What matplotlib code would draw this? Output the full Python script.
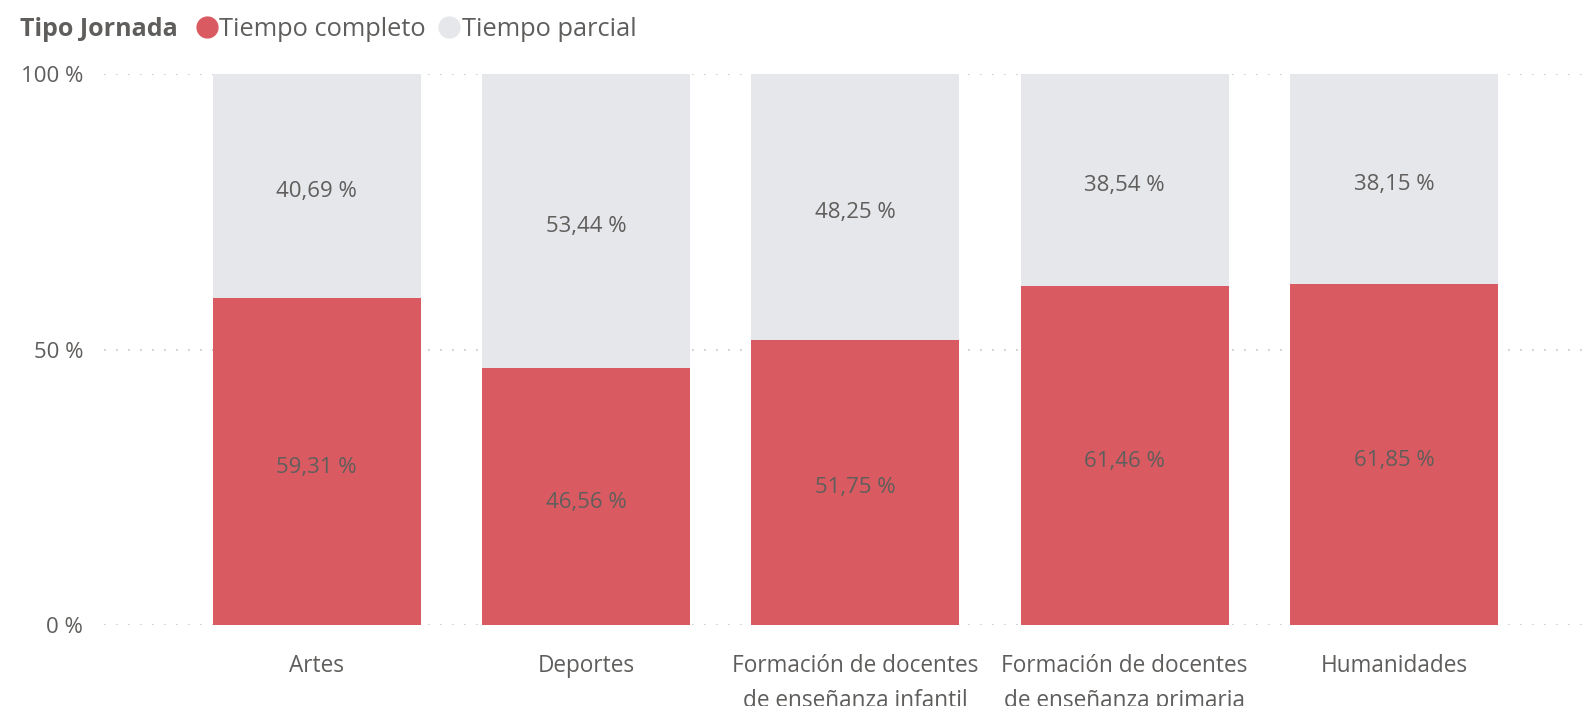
import matplotlib.pyplot as plt
from matplotlib.lines import Line2D

plt.rcParams['font.family'] = ['Open Sans', 'DejaVu Sans']

# Data
categorias = ["Artes", "Deportes", "Formación de docentes\nde enseñanza infantil",
              "Formación de docentes\nde enseñanza primaria", "Humanidades"]
tiempo_completo = [59.31, 46.56, 51.75, 61.46, 61.85]
tiempo_parcial = [40.69, 53.44, 48.25, 38.54, 38.15]
yticks = [0, 50, 100]

red = "#D95B61"
grey = "#E6E7EB"
txt = "#605E5C"

fig = plt.figure(figsize=(15.84, 7.06), dpi=100)
ax = fig.add_axes([104 / 1584, 81 / 706, 1 - 104 / 1584, 551 / 706])

x = range(len(categorias))
b1 = ax.bar(x, tiempo_completo, width=0.772, color=red, zorder=2)
b2 = ax.bar(x, tiempo_parcial, width=0.772, bottom=tiempo_completo, color=grey, zorder=2)

# labels in the middle of each segment
for rects, vals in [(b1, tiempo_completo), (b2, tiempo_parcial)]:
    for r, v in zip(rects, vals):
        ax.annotate(f"{v:.2f} %".replace(".", ","),
                    (r.get_x() + r.get_width() / 2, r.get_y() + r.get_height() / 2),
                    xytext=(0, -4), textcoords="offset points",
                    ha="center", va="center", fontsize=16, color=txt, zorder=3)

ax.set_xlim(-0.79, 4.706)
ax.set_ylim(0, 100)
ax.set_yticks(yticks)
ax.set_yticklabels([f"{t} %" for t in yticks])
ax.set_xticks(list(x))
ax.set_xticklabels(categorias, linespacing=1.6, fontsize=16.3)
ax.tick_params(axis="both", length=0, labelcolor=txt)
ax.tick_params(axis="y", pad=15, labelsize=16)
ax.tick_params(axis="x", pad=21)
for s in ax.spines.values():
    s.set_visible(False)
ax.yaxis.grid(True, color="#C8C6C4", linestyle=(0, (1, 6.2)), linewidth=1.2, zorder=0)
ax.set_axisbelow(True)

# legend
fig.text(20 / 1584, 1 - 30 / 706, "Tipo Jornada", fontsize=18, fontweight="bold",
         color=txt, va="center", ha="left")
handles = [Line2D([], [], marker="o", linestyle="", markersize=15, color=red),
           Line2D([], [], marker="o", linestyle="", markersize=15, color=grey)]
fig.legend(handles, ["Tiempo completo", "Tiempo parcial"], loc="center left",
           bbox_to_anchor=(194 / 1584, 1 - 29 / 706), ncol=2, frameon=False,
           fontsize=18.3, labelcolor=txt, handletextpad=0.0, columnspacing=0.4,
           handlelength=1.0, borderaxespad=0, borderpad=0)

fig.savefig("out.png", dpi=100)
